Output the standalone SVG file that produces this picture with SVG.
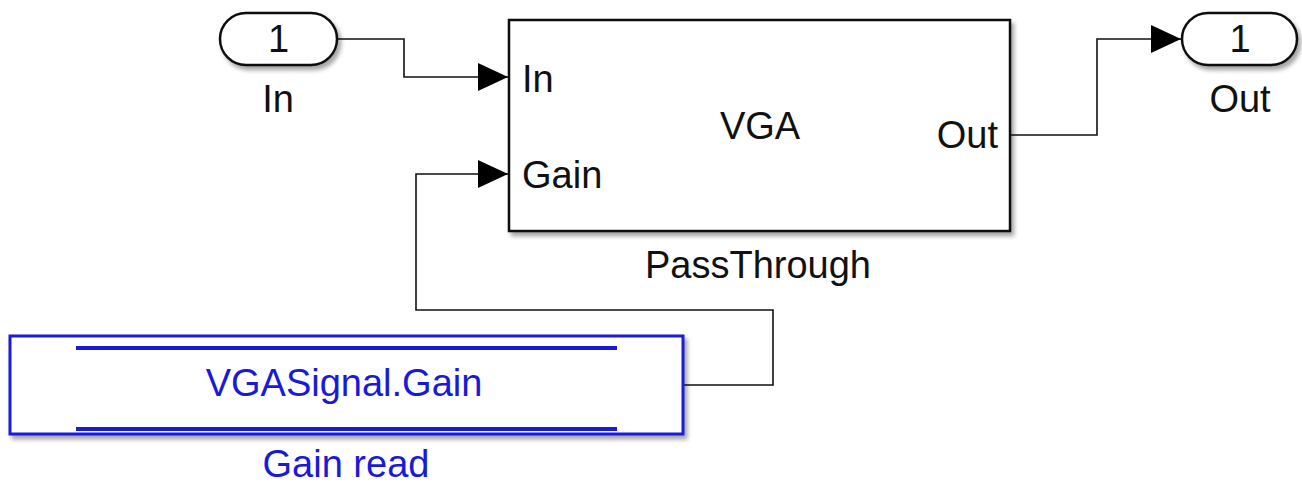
<svg xmlns="http://www.w3.org/2000/svg" width="1302" height="489" viewBox="0 0 1302 489">
  <style>
    text { font-family: "Liberation Sans", Arial, sans-serif; font-size: 38px; fill: #111; }
    .mid { text-anchor: middle; }
    .end { text-anchor: end; }
    .blue { fill: #1a1ad6; }
    .blk { fill: #fff; stroke: #111; stroke-width: 2.5; }
    .wire { fill: none; stroke: #111; stroke-width: 1.6; }
    .ds { fill: #fff; stroke: #1a1ad6; stroke-width: 3; }
    .dsl { stroke: #1a1ad6; stroke-width: 4; }
  </style>
  <defs>
    <filter id="sh" x="-5%" y="-5%" width="115%" height="125%">
      <feDropShadow dx="3" dy="4" stdDeviation="2" flood-color="#000" flood-opacity="0.35"/>
    </filter>
    <marker id="arr" markerUnits="userSpaceOnUse" markerWidth="30" markerHeight="28" refX="30" refY="14" orient="auto">
      <path d="M0,0 L30,14 L0,28 z" fill="#000"/>
    </marker>
  </defs>

  <g id="connectors">
    <polyline class="wire" points="337,39 404,39 404,77 508,77" marker-end="url(#arr)"/>
    <polyline class="wire" points="683,385 773,385 773,310 416,310 416,174 508,174" marker-end="url(#arr)"/>
    <polyline class="wire" points="1010,135 1097,135 1097,39 1181,39" marker-end="url(#arr)"/>
  </g>

  <g id="inport">
    <rect class="blk" x="220" y="13" width="117" height="52" rx="26" ry="26" filter="url(#sh)"/>
    <text class="mid" x="278.5" y="52">1</text>
    <text class="mid" x="278" y="112">In</text>
  </g>

  <g id="passthrough">
    <rect class="blk" x="509" y="20" width="501" height="211" filter="url(#sh)"/>
    <text x="522" y="92">In</text>
    <text x="522" y="188">Gain</text>
    <text class="mid" x="760" y="139">VGA</text>
    <text class="end" x="998" y="148">Out</text>
    <text class="mid" x="758" y="278">PassThrough</text>
  </g>

  <g id="outport">
    <rect class="blk" x="1182" y="13" width="115" height="52" rx="26" ry="26" filter="url(#sh)"/>
    <text class="mid" x="1240" y="52">1</text>
    <text class="mid" x="1240" y="112">Out</text>
  </g>

  <g id="gainread">
    <rect class="ds" x="10" y="336" width="673" height="98" filter="url(#sh)"/>
    <line class="dsl" x1="76" y1="348" x2="617" y2="348"/>
    <line class="dsl" x1="76" y1="429" x2="617" y2="429"/>
    <text class="mid blue" x="344" y="396">VGASignal.Gain</text>
    <text class="mid blue" x="346" y="477">Gain read</text>
  </g>
</svg>
